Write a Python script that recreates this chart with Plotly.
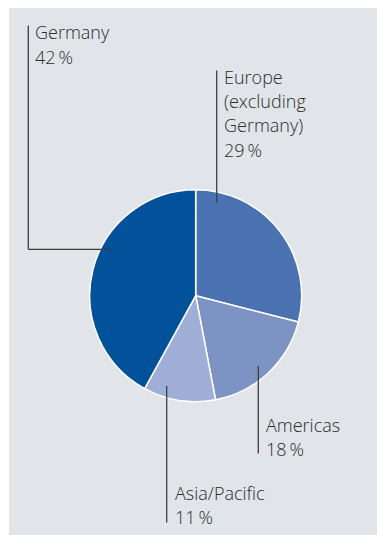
import plotly.graph_objects as go

# Revenue share by region, clockwise from 12 o'clock
regions = ["Europe (excluding Germany)", "Americas", "Asia/Pacific", "Germany"]
shares = [29, 18, 11, 42]
label_lines = [
    ["Europe", "(excluding", "Germany)"],
    ["Americas"],
    ["Asia/Pacific"],
    ["Germany"],
]
slice_colors = ["#4b72b0", "#7d93c4", "#9eaed6", "#02519b"]

W, H = 377, 535
BG = "#e1e4e8"
TEXT = "#2c2c2c"
LINE = "#3f3f3f"

# pie geometry (pixels)
cx, cy, r = 195.7, 295.7, 106


def px_x(x):
    return x / W


def px_y(y):
    return 1 - y / H


fig = go.Figure(
    go.Pie(
        labels=regions,
        values=shares,
        sort=False,
        direction="clockwise",
        rotation=0,
        marker=dict(colors=slice_colors, line=dict(color="white", width=1.5)),
        textinfo="none",
        hoverinfo="label+percent",
        showlegend=False,
        domain=dict(
            x=[px_x(cx - r), px_x(cx + r)],
            y=[px_y(cy + r), px_y(cy - r)],
        ),
    )
)

shapes = [
    dict(type="rect", xref="paper", yref="paper",
         x0=px_x(9), x1=1, y0=0, y1=px_y(8),
         fillcolor=BG, line=dict(width=0), layer="below"),
]

# leader lines: (polyline points in pixels)
leaders = [
    [(216.7, 70.5), (216.7, 202.5)],          # Europe
    [(258.3, 366), (258.3, 453.5)],           # Americas
    [(166.7, 386), (166.7, 522.5)],           # Asia/Pacific
    [(28.3, 25.5), (28.3, 249.3), (113.3, 249.3)],  # Germany
]
for pts in leaders:
    for (x0, y0), (x1, y1) in zip(pts[:-1], pts[1:]):
        shapes.append(dict(type="line", xref="paper", yref="paper",
                           x0=px_x(x0), y0=px_y(y0), x1=px_x(x1), y1=px_y(y1),
                           line=dict(color=LINE, width=1.3), layer="above"))

# label anchors: left x, centre of first line, line step (pixels)
anchors = [(221.5, 77.0), (263.5, 424.5), (172.5, 493.0), (32.5, 32.5)]
step = 24.2

annotations = []
for lines, share, (ax, ay) in zip(label_lines, shares, anchors):
    rows = lines + [f"{share}\u2009%"]
    for i, txt in enumerate(rows):
        annotations.append(dict(
            xref="paper", yref="paper",
            x=px_x(ax), y=px_y(ay + i * step),
            xanchor="left", yanchor="middle",
            text=txt, showarrow=False,
            font=dict(family="Open Sans", size=18, weight=300, color=TEXT),
        ))

fig.update_layout(
    width=W, height=H,
    margin=dict(l=0, r=0, t=0, b=0),
    paper_bgcolor="white",
    plot_bgcolor="white",
    shapes=shapes,
    annotations=annotations,
)

fig.write_html("out.html")
